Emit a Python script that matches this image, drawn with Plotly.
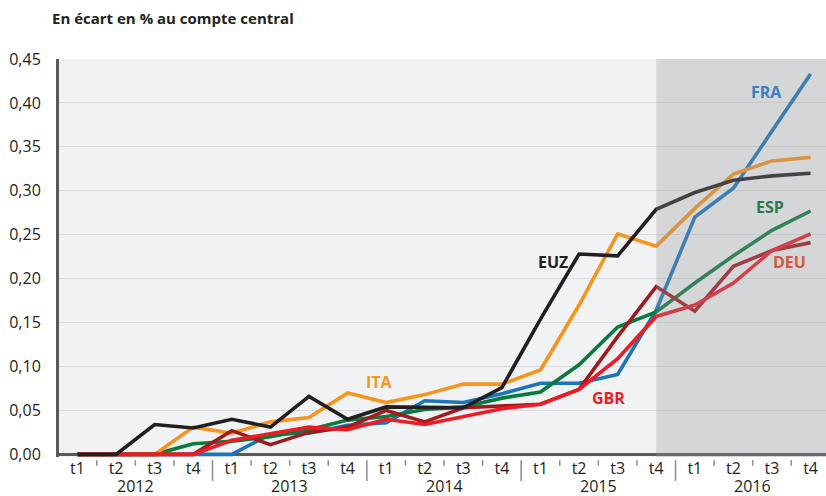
import plotly.graph_objects as go

quarters = ["t1", "t2", "t3", "t4"] * 5
years = ["2012", "2013", "2014", "2015", "2016"]

euz = [0, 0, 0.034, 0.030, 0.040, 0.031, 0.066, 0.040, 0.054, 0.053,
       0.053, 0.076, 0.154, 0.228, 0.226, 0.279, 0.298, 0.312, 0.317, 0.320]
ita = [0, 0, 0, 0.031, 0.024, 0.037, 0.042, 0.070, 0.059, 0.068,
       0.080, 0.080, 0.096, 0.170, 0.251, 0.237, 0.280, 0.319, 0.334, 0.338]
fra = [0, 0, 0, 0, 0, 0.023, 0.024, 0.033, 0.036, 0.061,
       0.059, 0.069, 0.081, 0.081, 0.091, 0.164, 0.270, 0.303, 0.368, 0.433]
esp = [0, 0, 0, 0.012, 0.015, 0.020, 0.028, 0.039, 0.043, 0.051,
       0.054, 0.064, 0.071, 0.102, 0.145, 0.162, 0.195, 0.226, 0.255, 0.277]
deu = [0, 0, 0, 0, 0.027, 0.011, 0.025, 0.031, 0.050, 0.037,
       0.053, 0.055, 0.057, 0.074, 0.134, 0.191, 0.163, 0.214, 0.232, 0.241]
gbr = [0, 0, 0, 0, 0.016, 0.023, 0.031, 0.028, 0.040, 0.034,
       0.043, 0.052, 0.057, 0.074, 0.109, 0.157, 0.170, 0.195, 0.232, 0.251]

series = [
    ("FRA", fra, "#1a75bb"),
    ("ESP", esp, "#0b7a3e"),
    ("ITA", ita, "#f7941d"),
    ("DEU", deu, "#9e1b20"),
    ("GBR", gbr, "#ed1c24"),
    ("EUZ", euz, "#231f20"),
]

FONT = "Open Sans"
AXIS = "#58595b"
x = list(range(len(quarters)))

fig = go.Figure()
for name, vals, col in series:
    fig.add_trace(go.Scatter(
        x=x, y=vals, name=name, mode="lines",
        line=dict(color=col, width=3.6),
    ))

# forecast shading (from 2015 t4 onwards)
fig.add_shape(type="rect", xref="x", yref="paper", x0=15, x1=20, y0=0, y1=1,
              fillcolor="rgba(148,149,152,0.3)", line_width=0, layer="above")

# quarter boundary ticks and year separators
for i in range(len(quarters) - 1):
    b = i + 0.5
    long_tick = (i % 4 == 3)
    fig.add_shape(type="line", xref="x", yref="paper", x0=b, x1=b,
                  y0=-0.008, y1=-0.06 if long_tick else -0.022,
                  line=dict(color="#8a8b8d", width=1.5))

for k, yr in enumerate(years):
    fig.add_annotation(x=4 * k + 1.5, y=-0.074, xref="x", yref="paper", text=yr,
                       showarrow=False, yanchor="middle",
                       font=dict(family=FONT, size=16, color="#231f20"))

labels = [
    ("FRA", 17.85, 0.412, "#3a7fbf"),
    ("ESP", 17.95, 0.282, "#2e7a4e"),
    ("DEU", 18.46, 0.219, "#d9553a"),
    ("EUZ", 12.32, 0.219, "#231f20"),
    ("ITA", 7.84, 0.082, "#f7941d"),
    ("GBR", 13.77, 0.064, "#ed1c24"),
]
for txt, lx, ly, col in labels:
    fig.add_annotation(x=lx, y=ly, xref="x", yref="y", text=f"<b>{txt}</b>",
                       showarrow=False, font=dict(family=FONT, size=16, color=col))

fig.add_annotation(x=-0.012, y=1.103, xref="paper", yref="paper",
                   text="<b>En écart en % au compte central</b>", showarrow=False,
                   xanchor="left", yanchor="middle",
                   font=dict(family=FONT, size=15, color="#231f20"))

fig.update_layout(
    width=826, height=496,
    margin=dict(l=59, r=0, t=59, b=39),
    paper_bgcolor="white",
    plot_bgcolor="#f1f2f4",
    separators=", ",
    showlegend=False,
    font=dict(family=FONT, size=15, color="#231f20"),
    xaxis=dict(
        range=[-0.479, 19.4], tickvals=x, ticktext=quarters,
        showgrid=False, zeroline=False, showline=False, ticks="",
        tickfont=dict(size=16), automargin=False,
    ),
    yaxis=dict(
        range=[-0.003, 0.45], dtick=0.05, tickformat=".2f",
        showgrid=True, gridcolor="#dcdde0", gridwidth=1,
        zeroline=True, zerolinecolor=AXIS, zerolinewidth=3,
        showline=True, linecolor=AXIS, linewidth=3,
        ticks="", ticklabelstandoff=12, tickfont=dict(size=16),
        automargin=False,
    ),
)

fig.write_html("out.html", config={"displayModeBar": False},
               post_script="document.body.style.margin='0';")
